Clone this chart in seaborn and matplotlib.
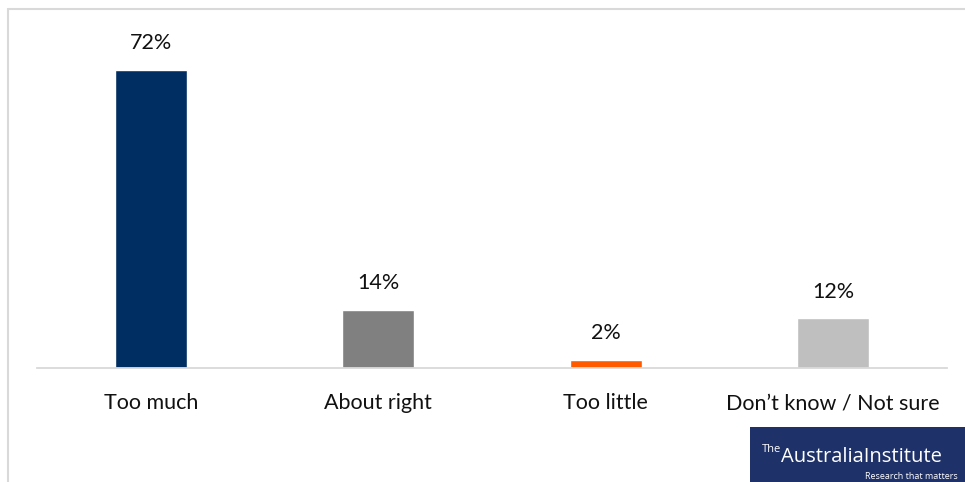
import matplotlib
matplotlib.use("Agg")
import matplotlib.pyplot as plt
from matplotlib.lines import Line2D
from matplotlib.patches import Rectangle
import seaborn as sns
import pandas as pd

categories = ["Too much", "About right", "Too little", "Don\u2019t know / Not sure"]
values = [72, 14, 2, 12]
colors = ["#002D62", "#808080", "#FF5A00", "#BFBFBF"]

sns.set_theme(style="white")
plt.rcParams['font.family'] = ['Lato', 'DejaVu Sans']

W, H = 965, 482
fig = plt.figure(figsize=(W / 100, H / 100), dpi=100)
fig.patch.set_facecolor("white")

def fx(px):
    return px / W

def fy(py):
    return 1 - py / H

# axes: x from 37 to 947, baseline at y=368, top at 20
ax = fig.add_axes([fx(37), fy(368), fx(947) - fx(37), fy(20) - fy(368)])
df = pd.DataFrame({"cat": categories, "val": values})
sns.barplot(data=df, x="cat", y="val", hue="cat", palette=colors, legend=False,
            width=0.316, ax=ax, saturation=1)
ax.set_ylim(0, (368 - 20) / 4.139)
ax.set_xlim(-0.5, 3.5)
ax.set_xlabel("")
ax.set_ylabel("")
ax.set_yticks([])
for s in ["top", "right", "left"]:
    ax.spines[s].set_visible(False)
ax.spines["bottom"].set_color("#D9D9D9")
ax.spines["bottom"].set_linewidth(1.3)
ax.tick_params(axis="x", length=0, pad=18, labelsize=15.5, labelcolor="#111111")

for i, v in enumerate(values):
    ax.annotate(f"{v}%", (i, v), xytext=(0, 12), textcoords="offset points",
                ha="center", va="bottom", fontsize=15.5, color="#111111")

# outer frame (top and left lines)
fig.add_artist(Line2D([fx(8), 1.0], [fy(9), fy(9)], color="#D9D9D9", lw=1.5,
                      transform=fig.transFigure))
fig.add_artist(Line2D([fx(8), fx(8)], [fy(9), 0.0], color="#D9D9D9", lw=1.5,
                      transform=fig.transFigure))

# logo box
fig.add_artist(Rectangle((fx(750), 0), 1 - fx(750), fy(427), transform=fig.transFigure,
                         facecolor="#1F3169", edgecolor="none"))
fig.text(fx(762), fy(452), "The", color="white", fontsize=8, ha="left", va="baseline",
         family=["Open Sans", "DejaVu Sans"])
fig.text(fx(781), fy(462), "AustraliaInstitute", color="white", fontsize=14.5, ha="left",
         va="baseline", family=["Open Sans", "DejaVu Sans"])
fig.text(fx(958), fy(479), "Research that matters", color="white", fontsize=6.5,
         ha="right", va="baseline", family=["Open Sans", "DejaVu Sans"])

fig.savefig("out.png", dpi=100, facecolor="white")
